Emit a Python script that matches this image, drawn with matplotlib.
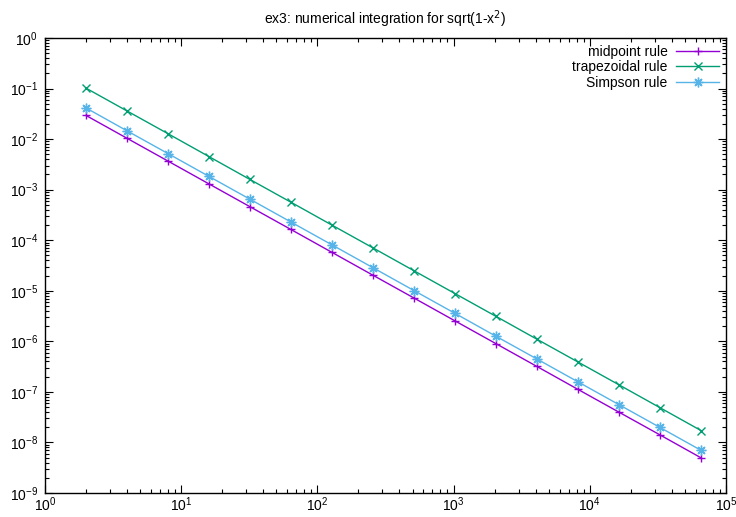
import matplotlib
matplotlib.use("Agg")
import matplotlib.pyplot as plt
from matplotlib.ticker import LogLocator, NullFormatter

plt.rcParams['font.family'] = ['Liberation Sans', 'DejaVu Sans']

# number of subintervals
n = [2, 4, 8, 16, 32, 64, 128, 256, 512, 1024, 2048, 4096, 8192, 16384, 32768, 65536]

# absolute errors
midpoint_err = [0.0294, 0.0104, 0.00368, 0.00130, 4.60e-4, 1.63e-4, 5.75e-5, 2.03e-5,
                7.19e-6, 2.54e-6, 8.99e-7, 3.18e-7, 1.12e-7, 3.97e-8, 1.41e-8, 4.97e-9]
trapezoidal_err = [0.102, 0.0361, 0.0128, 0.00451, 0.00159, 5.64e-4, 1.99e-4, 7.05e-5,
                   2.49e-5, 8.81e-6, 3.12e-6, 1.10e-6, 3.90e-7, 1.38e-7, 4.87e-8, 1.72e-8]
simpson_err = [0.0414, 0.0146, 0.00518, 0.00183, 6.47e-4, 2.29e-4, 8.09e-5, 2.86e-5,
               1.01e-5, 3.58e-6, 1.26e-6, 4.47e-7, 1.58e-7, 5.59e-8, 1.98e-8, 6.99e-9]

fig = plt.figure(figsize=(7.36, 5.17), dpi=100)
ax = fig.add_axes([0.0611, 0.0464, 0.9253, 0.8801])

ax.plot(n, midpoint_err, color='#9400D3', lw=1, marker='+', ms=6, mew=1, label='midpoint rule')
ax.plot(n, trapezoidal_err, color='#009E73', lw=1, marker='x', ms=5.5, mew=1, label='trapezoidal rule')
ax.plot(n, simpson_err, color='#56B4E9', lw=1, marker=(8, 2, 0), ms=7, mew=1, label='Simpson rule')

ax.set_xscale('log')
ax.set_yscale('log')
ax.set_xlim(1, 1e5)
ax.set_ylim(1e-9, 1)

ax.xaxis.set_major_locator(LogLocator(base=10, numticks=10))
ax.yaxis.set_major_locator(LogLocator(base=10, numticks=12))
ax.xaxis.set_minor_locator(LogLocator(base=10, subs=range(2, 10), numticks=12))
ax.yaxis.set_minor_locator(LogLocator(base=10, subs=range(2, 10), numticks=12))
ax.xaxis.set_minor_formatter(NullFormatter())
ax.yaxis.set_minor_formatter(NullFormatter())

ax.tick_params(which='both', direction='in', top=True, right=True, labelsize=10, width=0.8)
ax.tick_params(which='major', length=6)
ax.tick_params(which='minor', length=3)
ax.tick_params(axis='x', which='major', pad=2)
ax.tick_params(axis='y', which='major', pad=5)
for s in ax.spines.values():
    s.set_linewidth(1)

ax.set_title('ex3: numerical integration for sqrt(1-x$^2$)', fontsize=10, pad=10)

ax.legend(loc='upper right', frameon=False, markerfirst=False, fontsize=10,
          handlelength=3.1, labelspacing=0.1, handletextpad=0.6,
          borderaxespad=0.1)

fig.savefig('out.png', dpi=100)
